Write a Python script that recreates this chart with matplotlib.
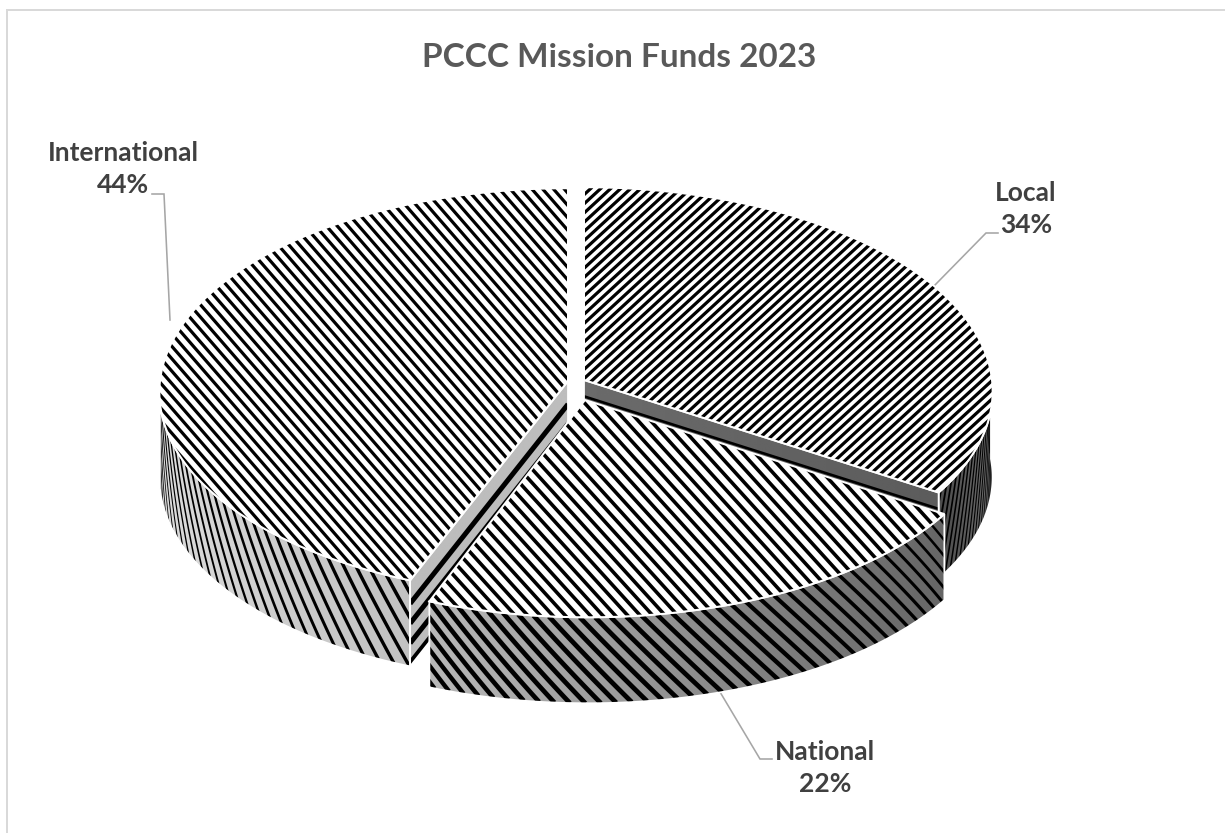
import numpy as np
import matplotlib
matplotlib.use("Agg")
import matplotlib.pyplot as plt
from matplotlib.patches import Polygon
from matplotlib.collections import LineCollection

# Chart data
names = ["Local", "National", "International"]
shares = [34, 22, 44]
title = "PCCC Mission Funds 2023"

plt.rcParams["font.family"] = ["Lato", "DejaVu Sans"]

W, H = 1225, 833
fig = plt.figure(figsize=(W / 100, H / 100), dpi=100)
ax = fig.add_axes([0, 0, 1, 1])
ax.set_xlim(0, W)
ax.set_ylim(H, 0)
ax.axis("off")

PX = 72 / 100  # points per pixel
DEPTH = 86
KEEP = 0.055   # perspective growth toward the viewer

# slice angles, clockwise from 12 o'clock
edges = np.concatenate([[0], np.cumsum(shares)]) * 3.6
span = {n: (edges[i], edges[i + 1]) for i, n in enumerate(names)}

# rim centre and radii of each exploded slice
geom = {
    "Local": (584, 380, 408, 204),
    "National": (588, 401, 410, 205),
    "International": (568, 381, 408, 204),
}
apex = {"Local": (584, 380), "National": (585, 400), "International": (568, 381)}


def rim(name, theta):
    cx, cy, rx, ry = geom[name]
    t = np.radians(theta)
    s = 1 - KEEP * np.cos(t)
    return cx + rx * s * np.sin(t), cy - ry * s * np.cos(t)


def arc(name, a, b, n=120):
    th = np.linspace(a, b, n)
    x, y = rim(name, th)
    return np.column_stack([x, y])


def fill(poly, colors, zorder=1):
    # poly filled with a horizontal gray gradient, clipped to its outline
    patch = Polygon(poly, closed=True, facecolor="none", edgecolor="none", zorder=zorder)
    ax.add_patch(patch)
    x0, x1 = poly[:, 0].min(), poly[:, 0].max()
    y0, y1 = poly[:, 1].min(), poly[:, 1].max()
    grad = np.interp(np.linspace(0, 1, 256), np.linspace(0, 1, len(colors)), colors)
    im = ax.imshow(grad[None, :], cmap="gray", vmin=0, vmax=1, extent=(x0, x1, y1, y0),
                   aspect="auto", zorder=zorder, interpolation="bilinear")
    im.set_clip_path(patch)
    ax.set_xlim(0, W)
    ax.set_ylim(H, 0)
    return patch


def outline(poly, zorder, lw=1.8):
    ax.add_patch(Polygon(poly, closed=True, facecolor="none", edgecolor="white",
                         linewidth=lw * PX, zorder=zorder))


def stripes(poly, patch, slope, period, width, zorder):
    # straight diagonal stripes; slope>0 runs down to the right on screen
    x0, x1 = poly[:, 0].min(), poly[:, 0].max()
    y0, y1 = poly[:, 1].min(), poly[:, 1].max()
    dx = (y1 - y0) / slope
    starts = np.arange(x0 - abs(dx) - period, x1 + abs(dx) + period, period)
    segs = [[(s, y0), (s + dx, y1)] for s in starts]
    lc = LineCollection(segs, colors="black", linewidths=width * PX, zorder=zorder,
                        capstyle="butt")
    ax.add_collection(lc)
    lc.set_clip_path(patch)


def wall(name, a, b, colors, step, skew, width, zorder):
    top = arc(name, a, b)
    poly = np.vstack([top, (top + [0, DEPTH])[::-1]])
    patch = fill(poly, colors, zorder=zorder)
    # stripes wrapped round the curved side, thinner where the side turns away
    t = np.linspace(0, 1, 12)
    segs, widths = [], []
    for th0 in np.arange(min(a, b) - abs(skew) - step, max(a, b) + abs(skew) + step, step):
        x, y = rim(name, th0 + skew * t)
        segs.append(np.column_stack([x, y + DEPTH * t]))
        widths.append(width * max(0.2, abs(np.cos(np.radians(th0 + skew / 2)))) * PX)
    lc = LineCollection(segs, colors="black", linewidths=widths, zorder=zorder + 0.1)
    ax.add_collection(lc)
    lc.set_clip_path(patch)
    outline(poly, zorder + 0.2)


def top_face(name, slope, period, width, zorder):
    a, b = span[name]
    poly = np.vstack([apex[name], arc(name, a, b, 240)])
    patch = fill(poly, [1, 1], zorder=zorder)
    stripes(poly, patch, slope, period, width, zorder + 0.1)
    outline(poly, zorder + 0.2, lw=2)


def cut_face(name, theta, shade, levels, width, zorder):
    # flat inner face of a slice, with stripes running along its length
    cx, cy = apex[name]
    ex, ey = rim(name, theta)
    poly = np.array([[cx, cy], [ex, ey], [ex, ey + DEPTH], [cx, cy + DEPTH]], float)
    patch = fill(poly, shade, zorder=zorder)
    segs = [[(cx, cy + DEPTH * f), (ex, ey + DEPTH * f)] for f in levels]
    lc = LineCollection(segs, colors="black", linewidths=width * PX, zorder=zorder + 0.1)
    ax.add_collection(lc)
    lc.set_clip_path(patch)
    outline(poly, zorder + 0.2)


# chart frame, only its left and top edges fall inside the picture
ax.plot([6.5, 6.5, W], [H, 9.5, 9.5], color="#d9d9d9", linewidth=2 * PX, zorder=0,
        solid_joinstyle="miter")

# Local slice
wall("Local", 88, span["Local"][1], [0.30, 0.36, 0.42], 1.55, 5, 3.4, 2)
cut_face("Local", span["Local"][1], [0.42, 0.36], [0.19], 2.6, 3)
top_face("Local", -0.92, 10, 3.2, 4)

# International slice
wall("International", span["International"][0], 264, [0.86, 0.80, 0.76], 2.3, -8, 3.8, 5)
cut_face("International", span["International"][0], [0.74, 0.74],
         [0.27, 0.50, 0.73, 0.96], 5, 6)
top_face("International", 1.15, 10.8, 3.2, 7)

# National slice sits in front of the others
wall("National", span["National"][0], span["National"][1], [0.72, 0.62, 0.50, 0.40], 2.05, -11, 4.8, 8)
top_face("National", 1.1, 12.5, 3.6, 9)

# leader lines
leaders = [
    ([152, 164, 170], [194, 194, 320]),
    ([998, 986, 934], [233, 233, 286]),
    ([772, 760, 720], [759, 759, 692]),
]
for lx, ly in leaders:
    ax.plot(lx, ly, color="#a6a6a6", linewidth=1.6 * PX, zorder=3, solid_joinstyle="miter")

# labels
label_pos = {"International": (123, 169), "Local": (1026, 209), "National": (825, 768)}
for n, s in zip(names, shares):
    x, y = label_pos[n]
    ax.text(x, y, f"{n}\n{s}%", ha="center", va="center", fontsize=19, fontweight="bold",
            color="#404040", linespacing=1.41, zorder=12)

ax.text(619, 57, title, ha="center", va="center", fontsize=24, fontweight="bold",
        color="#595959", zorder=12)

fig.savefig("out.png", dpi=100)
